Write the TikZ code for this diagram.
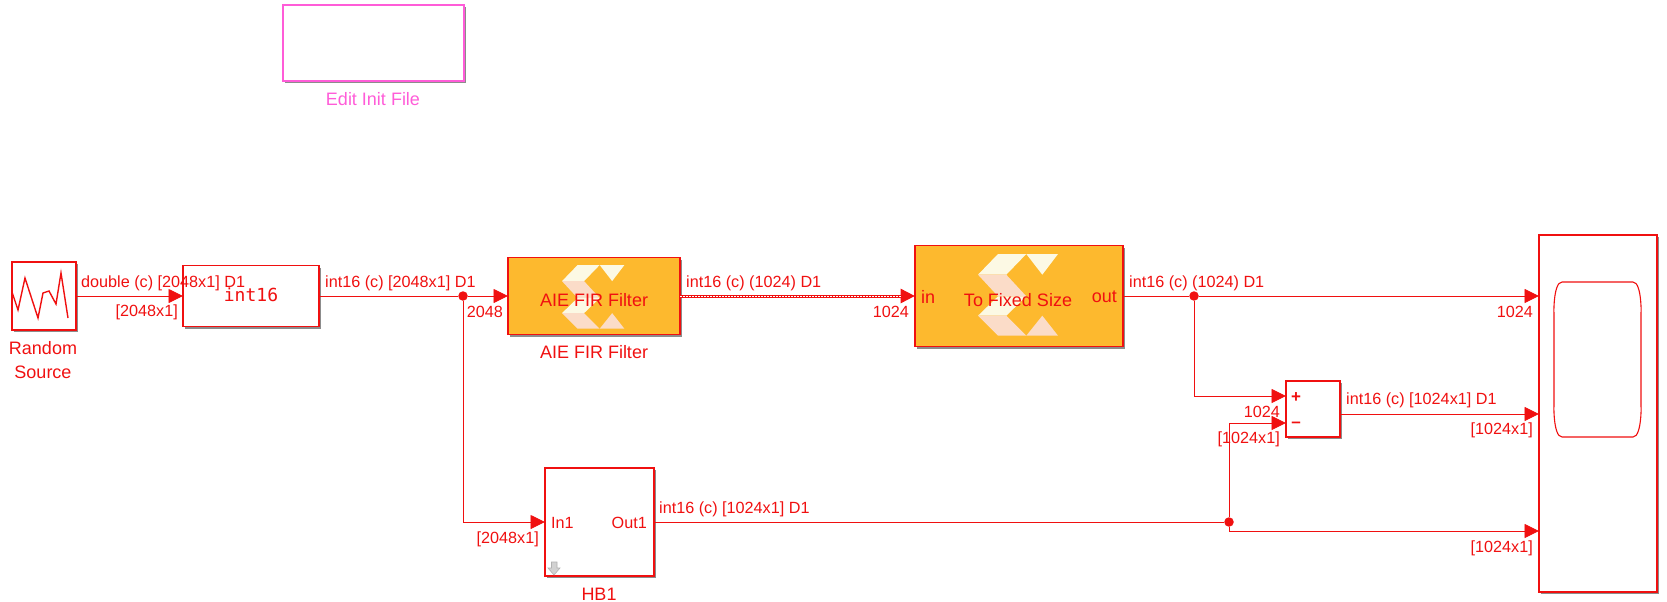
\documentclass[tikz,border=0pt]{standalone}
\usepackage{fontspec}
\setmainfont{Liberation Sans}
\newfontfamily\blockmono{DejaVu Sans Mono}
\usetikzlibrary{arrows.meta,shadows}
\definecolor{wirered}{HTML}{F01010}
\definecolor{maskpink}{HTML}{FF5CD8}
\definecolor{xorange}{HTML}{FDB92E}
\definecolor{xcream}{HTML}{FCF9E4}
\definecolor{xpink}{HTML}{FBDCC8}
\tikzset{
  block/.style={draw=wirered,line width=1.5pt,fill=white,inner sep=0pt,outer sep=0pt,
    drop shadow={shadow xshift=2pt,shadow yshift=-2pt,opacity=.45,fill=black}},
  xblock/.style={block,fill=xorange},
  txt/.style={text=wirered,font=\fontsize{16.2}{18}\selectfont,inner sep=0pt},
  blktxt/.style={text=wirered,font=\fontsize{18}{18}\selectfont,inner sep=0pt},
  wire/.style={draw=wirered,line width=.9pt},
  junction/.style={circle,fill=wirered,draw=none,minimum size=9.5pt,inner sep=0pt},
  xlogo/.pic={
    \fill[xcream] (0,20.7) -- (20,0) -- (48.3,0) -- (28.3,20.7) -- cycle;
    \fill[xcream] (48.3,0) -- (80,0) -- (64.3,20.7) -- cycle;
    \fill[xpink] (0,20.7) -- (28.3,20.7) -- (48.3,42.3) -- (20,42.3) -- cycle;
    \fill[xcream] (0,61.7) -- (20,42.3) -- (48.3,42.3) -- (28.3,61.7) -- cycle;
    \fill[xpink] (0,61.7) -- (28.3,61.7) -- (48.3,81.7) -- (20,81.7) -- cycle;
    \fill[xpink] (48.3,81.7) -- (64.3,61.7) -- (80,81.7) -- cycle;
  }
}
\begin{document}
\begin{tikzpicture}[x=1pt,y=-1pt,>={Triangle[length=14.5pt,width=14pt]}]
  \useasboundingbox (0,0) rectangle (1667,602);
  % Blocks
  \node[block,draw=maskpink,minimum width=181pt,minimum height=76pt] (initblk) at (373.5,43) {};
  \node[blktxt,text=maskpink] (initlbl) at (373,99) {Edit Init File};
  \node[block,minimum width=64pt,minimum height=68pt] (rnd) at (44,296) {};
  \node[blktxt,align=center] (rndlbl) at (43,360) {Random\\[6pt]Source};
  \node[block,minimum width=136pt,minimum height=61pt] (conv) at (251,296) {};
  \node[text=wirered,inner sep=0pt,font=\blockmono\fontsize{18}{20}\selectfont] (convlbl) at (251,295) {int16};
  \node[xblock,minimum width=172pt,minimum height=77pt] (fir) at (594,296) {};
  \node[xblock,minimum width=208pt,minimum height=101pt] (fixed) at (1019,296) {};
  \node[block,minimum width=109pt,minimum height=108pt] (hb) at (599.5,522) {};
  \node[block,minimum width=54pt,minimum height=56pt] (sum) at (1313,409) {};
  \node[block,minimum width=118pt,minimum height=357pt] (scope) at (1598,413.5) {};
  \draw[wirered,line width=1.1pt] (1562,282) -- (1633,282) to[out=0,in=-90,looseness=.8] (1641,312) -- (1641,407)
    to[out=90,in=0,looseness=.8] (1633,437) -- (1562,437) to[out=180,in=90,looseness=.8] (1554,407) -- (1554,312) to[out=-90,in=180,looseness=.8] cycle;
  % Icon inside the source
  \draw[wirered,line width=1.4pt] (12,292) -- (18,310) -- (25,278) -- (38,318) -- (43,293) -- (49,291) -- (56,304) -- (61,273) -- (68,318);
  % Logos
  \pic[scale=.78] at (562,265) {xlogo};
  \pic at (978,254) {xlogo};
  \node[blktxt] (firtxt) at (594,300) {AIE FIR Filter};
  \node[blktxt] (firlbl) at (594,352) {AIE FIR Filter};
  \node[blktxt] (fixedtxt) at (1018,300) {To Fixed Size};
  \node[blktxt,anchor=west] (fixedin) at (921,297) {in};
  \node[blktxt,anchor=east] (fixedout) at (1117,297) {out};
  \node[txt,anchor=west] (hbin) at (551,523) {In1};
  \node[txt,anchor=east] (hbout) at (647,523) {Out1};
  \node[blktxt] (hblbl) at (599,594) {HB1};
  \draw[draw=gray!60,fill=gray!35,line width=.6pt] (551.5,562) -- (557,562) -- (557,568) -- (560,568) -- (554,575) -- (548,568) -- (551.5,568) -- cycle;
  \node[txt,font=\bfseries\fontsize{17}{18}\selectfont] (plus) at (1296,398) {+};
  \node[txt,font=\bfseries\fontsize{17}{18}\selectfont] (minus) at (1296,425) {\textendash};
  % Junctions and port coordinates
  \node[junction] (junA) at (463,296) {};
  \node[junction] (junC) at (1194,296) {};
  \node[junction] (junB) at (1229,522) {};
  \coordinate (sumplus) at (1286,396);
  \coordinate (summinus) at (1286,423);
  \coordinate (sumout) at (1340,414);
  \coordinate (scopeA) at (1539,296);
  \coordinate (scopeB) at (1539,414);
  \coordinate (scopeC) at (1539,531);
  % Wires
  \draw[wire,->] (rnd.east) -- (conv.west);
  \draw[wire] (conv.east) -- (junA);
  \draw[wire,->] (junA) -- (fir.west);
  \draw[wire,->] (junA) |- (hb.west);
  \draw[wire,line width=3pt,->] (fir.east) -- (fixed.west);
  \draw[white,line width=.9pt,dash pattern=on 1.5pt off 1.5pt,shorten >=14pt] (fir.east) -- (fixed.west);
  \draw[wire] (fixed.east) -- (junC);
  \draw[wire,->] (junC) -- (scopeA);
  \draw[wire,->] (junC) |- (sumplus);
  \draw[wire] (hb.east) -- (junB);
  \draw[wire,->] (junB) |- (summinus);
  \draw[wire,->] (junB) |- (scopeC);
  \draw[wire,->] (sumout) -- (scopeB);
  % Signal labels
  \node[txt,anchor=west] (sigA) at (81,283) {double (c) [2048x1] D1};
  \node[txt,anchor=east] (dimA) at (178,312) {[2048x1]};
  \node[txt,anchor=west] (sigB) at (325,283) {int16 (c) [2048x1] D1};
  \node[txt,anchor=east] (dimB) at (503,312) {2048};
  \node[txt,anchor=west] (sigC) at (686,283) {int16 (c) (1024) D1};
  \node[txt,anchor=east] (dimC) at (909,312) {1024};
  \node[txt,anchor=west] (sigD) at (1129,283) {int16 (c) (1024) D1};
  \node[txt,anchor=east] (dimD) at (1533,312) {1024};
  \node[txt,anchor=east] (dimE) at (1280,412) {1024};
  \node[txt,anchor=east] (dimF) at (1280,439) {[1024x1]};
  \node[txt,anchor=west] (sigE) at (1346,400) {int16 (c) [1024x1] D1};
  \node[txt,anchor=east] (dimG) at (1533,430) {[1024x1]};
  \node[txt,anchor=east] (dimH) at (1533,548) {[1024x1]};
  \node[txt,anchor=west] (sigF) at (659,509) {int16 (c) [1024x1] D1};
  \node[txt,anchor=east] (dimI) at (539,539) {[2048x1]};
\end{tikzpicture}
\end{document}
